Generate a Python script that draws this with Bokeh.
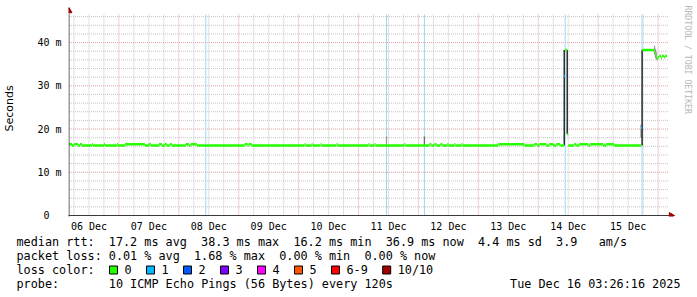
from math import pi
from bokeh.plotting import figure
from bokeh.layouts import column
from bokeh.models import FixedTicker, Range1d
from bokeh.core.properties import value
from bokeh.embed import file_html
from bokeh.resources import INLINE

# ---------------- data (hours since 06 Dec 00:00) ----------------
day_labels = ["06 Dec", "07 Dec", "08 Dec", "09 Dec", "10 Dec",
              "11 Dec", "12 Dec", "13 Dec", "14 Dec", "15 Dec"]
label_hours = [12, 36, 60, 84, 108, 132, 156, 180, 204, 228]
y_ticks = [0, 10, 20, 30, 40]
y_labels = ["0\u00a0\u00a0", "10 m", "20 m", "30 m", "40 m"]

# median rtt samples (ms), step start times
med_t = [4.0, 5.2, 6.0, 7.6, 8.4, 9.2, 13.2, 13.6, 18.0, 18.4,
         23.2, 23.6, 26.4, 34.4, 36.0, 36.8, 40.0, 41.2, 42.4, 43.2,
         44.4, 45.2, 50.8, 52.0, 52.8, 55.2, 74.4, 75.6, 76.0, 77.2,
         98.4, 98.8, 101.2, 101.6, 104.8, 105.2, 111.2, 111.6, 124.0, 124.4,
         126.4, 126.8, 138.4, 138.8, 148.4, 149.2, 150.4, 151.2, 152.8, 153.6,
         155.6, 156.0, 158.4, 158.8, 161.2, 161.6, 176.0, 186.4, 190.4, 191.6,
         192.4, 195.2, 196.4, 198.0, 199.2, 200.8, 202.4, 202.8, 203.6, 204.0,
         206.4, 207.2, 208.4, 212.0, 212.8, 218.0, 219.2, 222.4, 233.2, 233.6,
         238.4, 238.8, 239.2, 239.6, 240.0, 240.4, 241.2, 241.6, 242.4, 242.8]
med_v = [16.5, 16.2, 16.5, 16.2, 16.5, 16.2, 16.5, 16.2, 16.5, 16.2,
         16.5, 16.2, 16.5, 16.2, 16.5, 16.2, 16.5, 16.2, 16.5, 16.2,
         16.5, 16.2, 16.5, 16.2, 16.5, 16.2, 16.5, 16.2, 16.5, 16.2,
         16.5, 16.2, 16.5, 16.2, 16.5, 16.2, 16.5, 16.2, 16.5, 16.2,
         16.5, 16.2, 16.5, 16.2, 16.5, 16.2, 16.5, 16.2, 16.5, 16.2,
         16.5, 16.2, 16.5, 16.2, 16.5, 16.2, 16.5, 16.2, 16.5, 16.2,
         16.5, 16.2, 16.5, 16.2, 16.5, 16.2, 32.2, 38.3, 18.8, 16.2,
         16.5, 16.2, 16.5, 16.2, 16.5, 16.2, 16.5, 16.2, 20.3, 38.3,
         37.9, 37.3, 36.7, 36.3, 36.6, 36.9, 36.4, 36.9, 36.6, 36.9]
med_end = 243.6
loss1_t = [202.4, 233.2]          # samples with 1/10 loss

# loss event markers
loss_event_t = [58.8, 131.2, 146.4, 202.8, 233.6]

# smoke (ping spread) at selected samples
smoke_t = [131.2, 146.4, 202.4, 203.6, 233.2, 233.6, 238.6, 239.0, 239.4]
smoke_lo = [16.2, 16.2, 16.2, 18.8, 18.0, 16.2, 37.2, 36.4, 35.9]
smoke_hi = [18.3, 18.3, 38.3, 38.3, 21.0, 38.3, 39.3, 38.6, 37.8]
smoke_col = ["#9a9a9a", "#707070", "#111111", "#111111", "#8a8a8a",
             "#111111", "#a8a8a8", "#9a9a9a", "#a8a8a8"]

loss_names = ["0", "1", "2", "3", "4", "5", "6-9", "10/10"]
loss_colors = ["#26ff00", "#00b8ff", "#0059ff", "#7e00ff",
               "#ff00ff", "#ff5500", "#ff0000", "#a10000"]

row1 = [("median rtt:", 0), ("17.2 ms avg", 13), ("38.3 ms max", 26), ("16.2 ms min", 39),
        ("36.9 ms now", 52), ("4.4 ms sd", 65), ("3.9", 76), ("am/s", 82)]
row2 = [("packet loss:", 0), ("0.01 % avg", 13), ("1.68 % max", 25),
        ("0.00 % min", 37), ("0.00 % now", 49)]
row4 = [("probe:", 0), ("10 ICMP Echo Pings (56 Bytes) every 120s", 13)]
stamp = "Tue Dec 16 03:26:16 2025"
watermark = "RRDTOOL / TOBI OETIKER"

# ---------------- layout ----------------
W = 697
H1 = 234                     # chart figure height
FL = 67                      # frame left (px)
PX_PER_H = 2.5
X0 = 3.8                     # hour at frame left edge
XS, XE = 4.0, 244.0          # data window
YTOP = 46.5                  # top of data area (ms)
YS = YTOP / 201.0            # ms per px
X1 = X0 + (W - FL) / PX_PER_H


def X(px):
    return X0 + (px - FL) / PX_PER_H


def Y(py):
    return (215 - py) * YS


def no_align(fig):
    try:
        fig.frame_align = False
    except Exception:
        pass


p = figure(width=W, height=H1, x_range=Range1d(X0, X1), y_range=Range1d(-1 * YS, 215 * YS),
           output_backend="svg", toolbar_location=None,
           min_border_left=FL, min_border_right=0, min_border_top=0, min_border_bottom=H1 - 216)
no_align(p)
p.outline_line_color = None
p.background_fill_color = "white"
p.border_fill_color = "white"
p.xgrid.visible = False
p.ygrid.visible = False

mono = "DejaVu Sans Mono"
for ax in (p.xaxis[0], p.yaxis[0]):
    ax.major_tick_line_color = None
    ax.minor_tick_line_color = None
    ax.major_tick_out = 0
    ax.major_tick_in = 0
    ax.axis_line_color = None
    ax.major_label_text_font = mono
    ax.major_label_text_font_size = "10px"
    ax.major_label_text_color = "black"

p.xaxis.ticker = FixedTicker(ticks=label_hours)
p.xaxis.major_label_overrides = {h: s for h, s in zip(label_hours, day_labels)}
p.xaxis.major_label_standoff = 4
p.yaxis.ticker = FixedTicker(ticks=y_ticks)
p.yaxis.major_label_overrides = {v: s for v, s in zip(y_ticks, y_labels)}
p.yaxis.major_label_standoff = 7
p.yaxis.axis_label = "Seconds"
p.yaxis.axis_label_text_font = "DejaVu Sans"
p.yaxis.axis_label_text_font_size = "11px"
p.yaxis.axis_label_text_font_style = "normal"
p.yaxis.axis_label_text_color = "black"
p.yaxis.axis_label_standoff = 18

# grid (dotted), limited to the data area
GRID = "#c4c4c4"
MGRID = "#e0a0a0"
minor_x = [h for h in range(6, 244, 6) if h % 24]
major_x = [h for h in range(24, 244, 24)]
minor_y = [v for v in range(2, 47, 2) if v % 10]
major_y = [10, 20, 30, 40]
for xs, col in ((minor_x, GRID), (major_x, MGRID)):
    p.segment(x0=xs, y0=0, x1=xs, y1=YTOP, line_color=col, line_dash="1 1", line_width=1)
for ys, col in ((minor_y, GRID), (major_y, MGRID)):
    p.segment(x0=XS, y0=ys, x1=XE, y1=ys, line_color=col, line_dash="1 1", line_width=1)

# loss event markers
p.segment(x0=loss_event_t, y0=0, x1=loss_event_t, y1=YTOP, line_color="#9fd9f6", line_width=1)

# smoke
p.segment(x0=smoke_t, y0=smoke_lo, x1=smoke_t, y1=smoke_hi, line_color=smoke_col, line_width=1.3)

# median, coloured by loss
x1s = med_t[1:] + [med_end]
cols = [loss_colors[1] if t in loss1_t else loss_colors[0] for t in med_t]
p.segment(x0=med_t, y0=med_v, x1=x1s, y1=med_v, line_color=cols, line_width=2.6, line_cap="butt")

# axes lines + arrows
AX = "#3a3a3a"
ARROW = "#9a0000"
p.segment(x0=[XS, X(63)], y0=[Y(218), 0], x1=[XS, XE + 0.4], y1=[YTOP + 1 * YS, 0], line_color=AX, line_width=1)
p.scatter(x=[XS], y=[Y(10.5)], marker="triangle", size=6, fill_color=ARROW, line_color=ARROW)
p.scatter(x=[X(670.5)], y=[0], marker="triangle", angle=-pi / 2, size=6, fill_color=ARROW, line_color=ARROW)

# watermark
p.text(x=[X(687)], y=[Y(5)], text=[watermark], angle=-pi / 2, text_align="left",
       text_baseline="middle", text_font=value(mono), text_font_size=value("8.2px"),
       text_color="#b8b8b8")

# ---------------- legend figure ----------------
H2 = 297 - H1
q = figure(width=W, height=H2, x_range=Range1d(0, W), y_range=Range1d(297, H1),
           output_backend="svg", toolbar_location=None, x_axis_type=None, y_axis_type=None,
           min_border=0)
no_align(q)
q.outline_line_color = None
q.background_fill_color = "white"
q.border_fill_color = "white"
q.xgrid.visible = False
q.ygrid.visible = False

CW = 7.1
tx, ty, tt = [], [], []
for row, py in ((row1, 241), (row2, 255), (row4, 283)):
    for s, c in row:
        tx.append(16 + c * CW)
        ty.append(py)
        tt.append(s)
tx.append(16)
ty.append(269)
tt.append("loss color:")
bl = []
bx = 109
for name in loss_names:
    bl.append(bx)
    tx.append(bx + 15)
    ty.append(269)
    tt.append(name)
    bx += 37 + (len(name) - 1) * CW

TXT = dict(text_font=value(mono), text_font_size=value("11.8px"), text_color="black",
           text_baseline="middle")
q.text(x=tx, y=ty, text=tt, text_align="left", **TXT)
q.text(x=[680], y=[283], text=[stamp], text_align="right", **TXT)
q.quad(left=bl, right=[b + 8 for b in bl], top=265.5, bottom=273.5,
       fill_color=loss_colors, line_color="black", line_width=1)

layout = column(p, q, spacing=0)
open("out.html", "w").write(file_html(layout, INLINE))
